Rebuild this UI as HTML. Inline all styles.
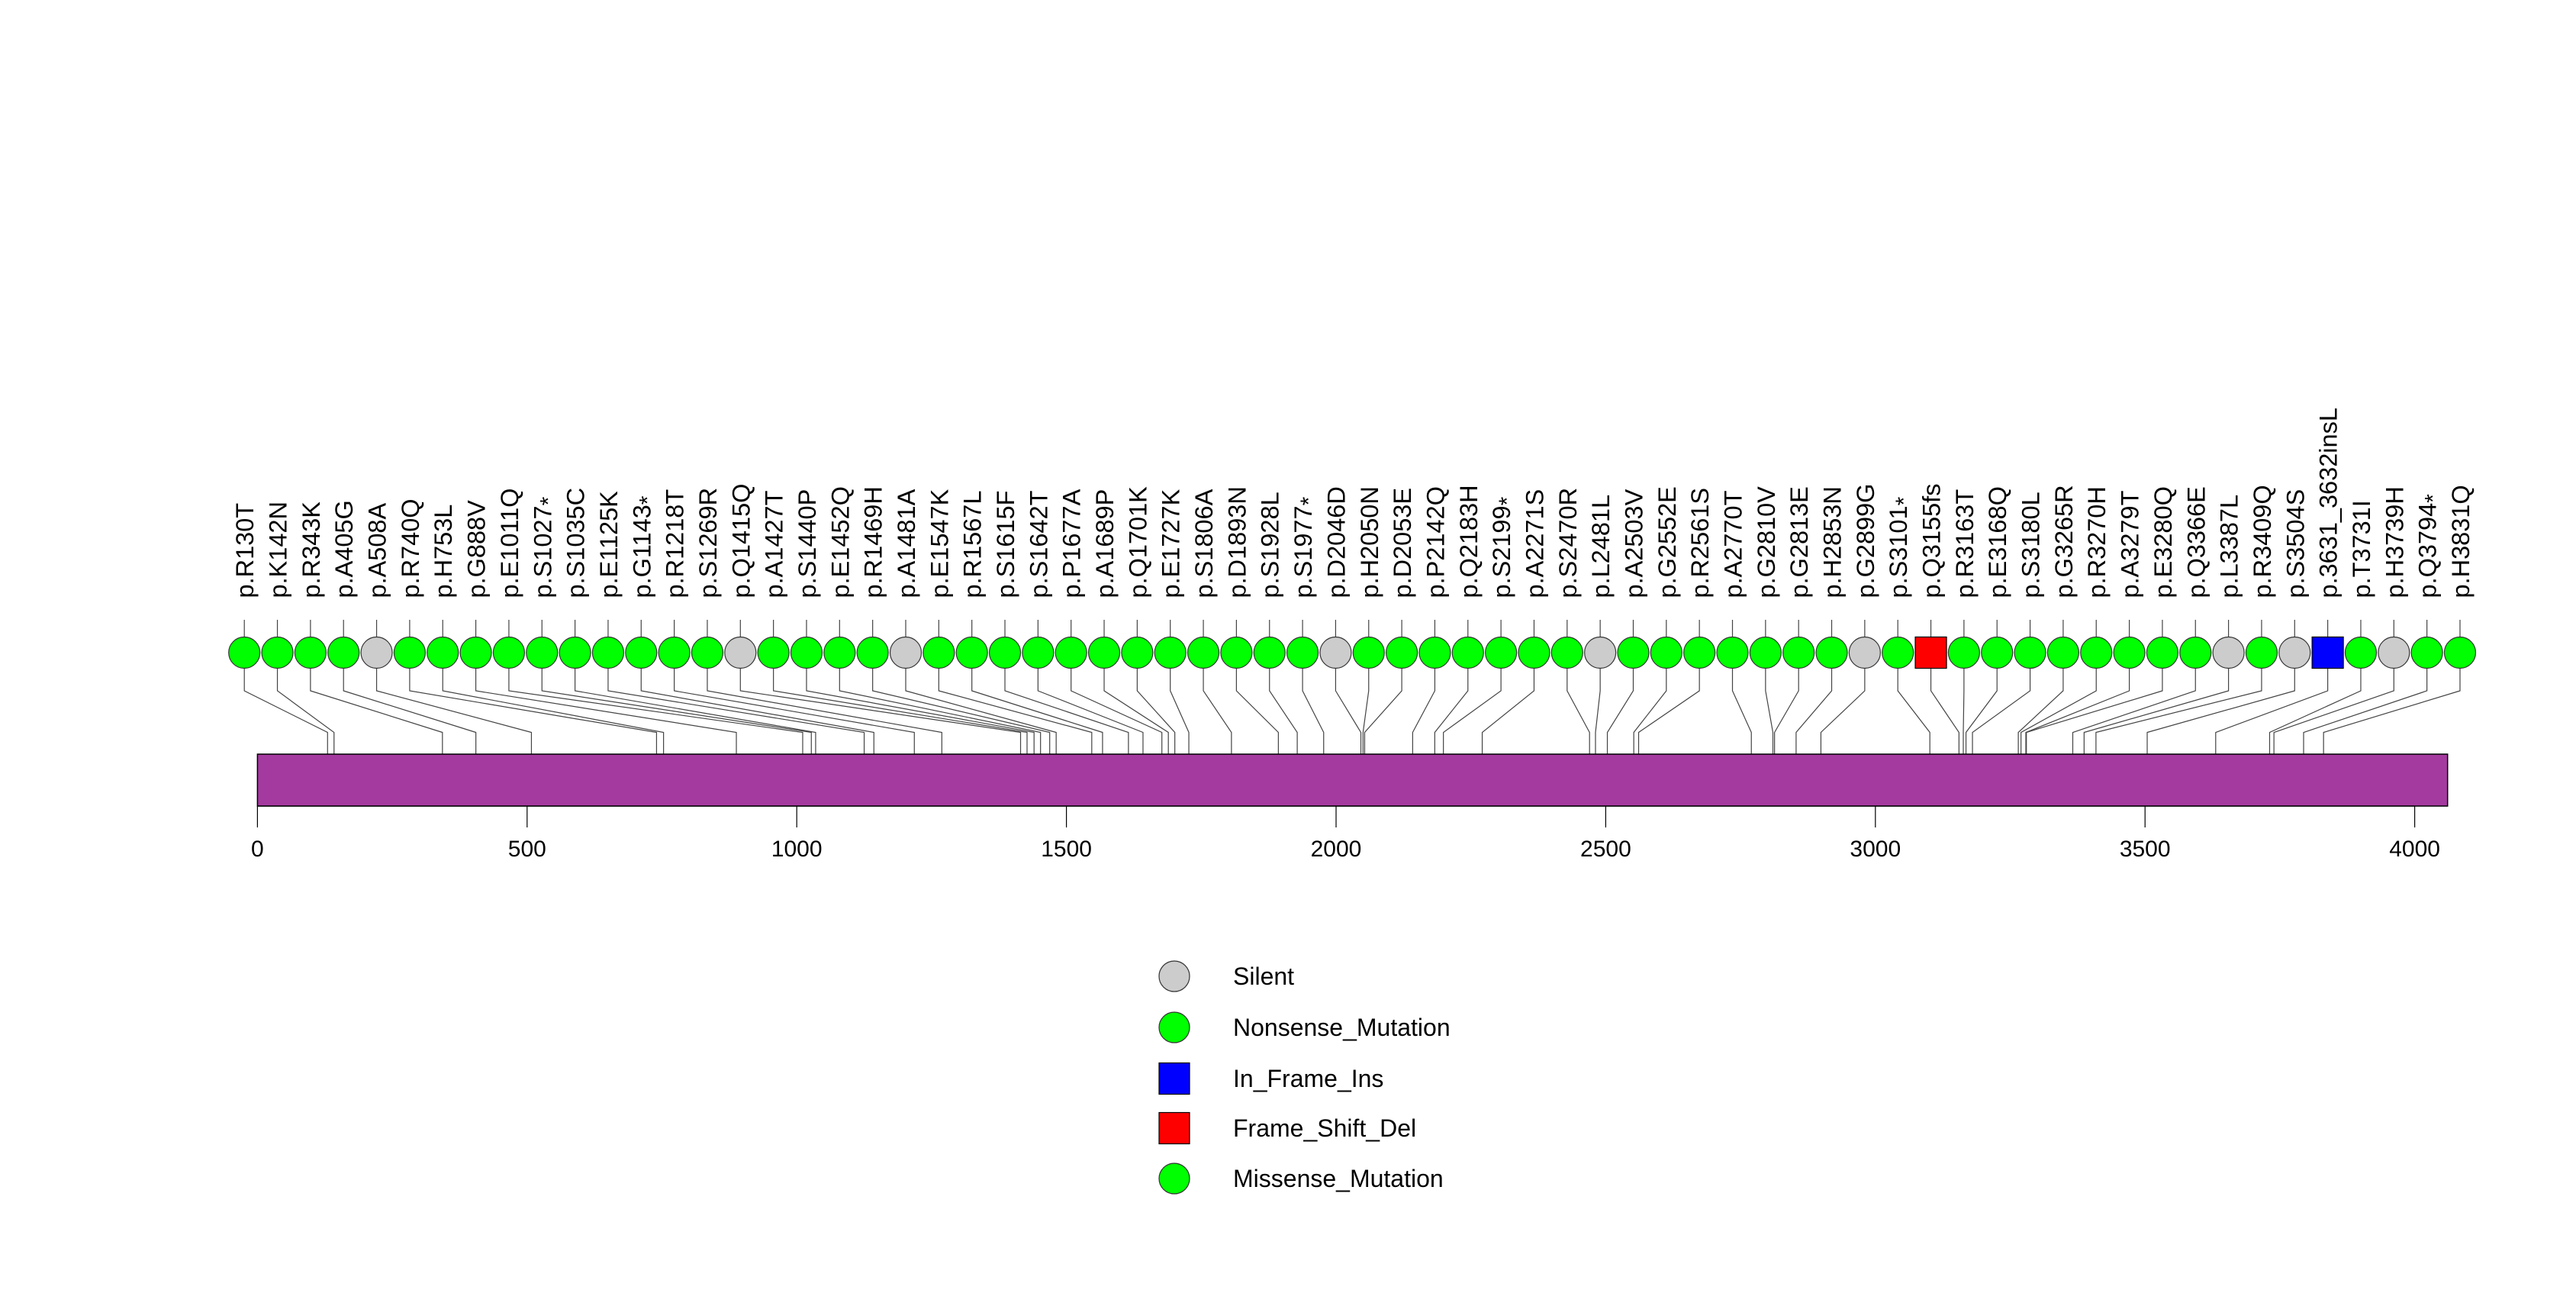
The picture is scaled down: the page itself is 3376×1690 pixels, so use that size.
<!DOCTYPE html>
<html><head><meta charset="utf-8"><style>
html,body{margin:0;padding:0;background:#fff;}
svg{display:block;font-family:"Liberation Sans",sans-serif;}
</style></head><body>
<svg id="chart" width="3376" height="1690" viewBox="0 0 3376 1690" xmlns="http://www.w3.org/2000/svg">
<g id="leads"></g>
<rect x="337.4" y="988" width="2870.3" height="68" fill="#a43a9f" stroke="#000" stroke-width="1.5"/>
<g id="axis"></g>
<g id="marks"></g>
<g id="labels"></g>
<g id="legend"></g>
</svg>
<script>
const labels = ["p.R130T","p.K142N","p.R343K","p.A405G","p.A508A","p.R740Q","p.H753L","p.G888V","p.E1011Q","p.S1027*","p.S1035C","p.E1125K","p.G1143*","p.R1218T","p.S1269R","p.Q1415Q","p.A1427T","p.S1440P","p.E1452Q","p.R1469H","p.A1481A","p.E1547K","p.R1567L","p.S1615F","p.S1642T","p.P1677A","p.A1689P","p.Q1701K","p.E1727K","p.S1806A","p.D1893N","p.S1928L","p.S1977*","p.D2046D","p.H2050N","p.D2053E","p.P2142Q","p.Q2183H","p.S2199*","p.A2271S","p.S2470R","p.L2481L","p.A2503V","p.G2552E","p.R2561S","p.A2770T","p.G2810V","p.G2813E","p.H2853N","p.G2899G","p.S3101*","p.Q3155fs","p.R3163T","p.E3168Q","p.S3180L","p.G3265R","p.R3270H","p.A3279T","p.E3280Q","p.Q3366E","p.L3387L","p.R3409Q","p.S3504S","p.3631_3632insL","p.T3731I","p.H3739H","p.Q3794*","p.H3831Q"];
const positions = [130,142,343,405,508,740,753,888,1011,1027,1035,1125,1143,1218,1269,1415,1427,1440,1452,1469,1481,1547,1567,1615,1642,1677,1689,1701,1727,1806,1893,1928,1977,2046,2050,2053,2142,2183,2199,2271,2470,2481,2503,2552,2561,2770,2810,2813,2853,2899,3101,3155,3163,3168,3180,3265,3270,3279,3280,3366,3387,3409,3504,3631,3731,3739,3794,3831];
const types = ["M","M","M","M","S","M","M","M","M","N","M","M","N","M","M","S","M","M","M","M","S","M","M","M","M","M","M","M","M","M","M","M","N","S","M","M","M","M","N","M","M","S","M","M","M","M","M","M","M","S","N","F","M","M","M","M","M","M","M","M","S","M","S","I","M","S","N","M"];
const ticks = [0,500,1000,1500,2000,2500,3000,3500,4000];
const legendLabels = ["Silent","Nonsense_Mutation","In_Frame_Ins","Frame_Shift_Del","Missense_Mutation"];
const legendTypes = ["S","N","I","F","M"];

const NS="http://www.w3.org/2000/svg";
const X0=337.4, K=0.7068;
const xs = p => X0 + p*K;
const slotX = i => 320.2 + i*43.34;
const fills={S:"#cccccc",N:"#00ff00",M:"#00ff00",I:"#0000ff",F:"#ff0000"};
function mk(tag,attrs,parent){const e=document.createElementNS(NS,tag);for(const k in attrs)e.setAttribute(k,attrs[k]);parent.appendChild(e);return e;}
const leads=document.getElementById('leads'),axis=document.getElementById('axis'),marks=document.getElementById('marks'),lab=document.getElementById('labels'),leg=document.getElementById('legend');
const CY=855;
positions.forEach((p,i)=>{
  const cx=slotX(i), px=xs(p);
  const pl=mk('polyline',{points:`${cx},812 ${cx},905 ${px},959.5 ${px},1056`,fill:"none",stroke:"#444","stroke-width":1.2},leads);
  
  
  const t0=types[i];
  let m;
  if(t0==="I"||t0==="F"){m=mk('rect',{x:cx-20.5,y:CY-20.5,width:41,height:41,fill:fills[t0],stroke:"#000","stroke-width":1.2},marks);}
  else{m=mk('circle',{cx:cx,cy:CY,r:20.5,fill:fills[t0],stroke:"#333","stroke-width":1.2},marks);}
  
  
  const lb=labels[i], star=lb.endsWith("*");
  const t=mk('text',{transform:`translate(${cx+12},783.5) rotate(-90)`,"font-size":32.5,fill:"#000"},lab);
  
  
  t.textContent=star?lb.slice(0,-1):lb;
  if(star){const s=mk('tspan',{dy:6,"font-size":30},t);s.textContent="*";}
});
mk('line',{x1:xs(ticks[0]),x2:xs(ticks[ticks.length-1]),y1:1056,y2:1056,stroke:"#000","stroke-width":1.2},axis);
ticks.forEach(v=>{
  const tk=mk('line',{x1:xs(v),x2:xs(v),y1:1056,y2:1084,stroke:"#000","stroke-width":1.2},axis);
  
  
  const tl=mk('text',{x:xs(v),y:1122,"text-anchor":"middle","font-size":30},axis);
  
  
  tl.textContent=v;
});
const legY=[1279,1346,1413,1478,1544];
legendLabels.forEach((l,i)=>{
  const y=legY[i];
  const t=legendTypes[i];
  let e;
  if(t==="I"||t==="F"){e=mk('rect',{x:1519,y:y-20.5,width:40,height:41,fill:fills[t],stroke:"#000","stroke-width":1.2},leg);}
  else{e=mk('circle',{cx:1539,cy:y,r:20,fill:fills[t],stroke:"#333","stroke-width":1.2},leg);}
  
  
  const tx=mk('text',{x:1616,y:y+11,"font-size":32},leg);
  
  
  tx.textContent=l;
});
</script>
</body></html>
